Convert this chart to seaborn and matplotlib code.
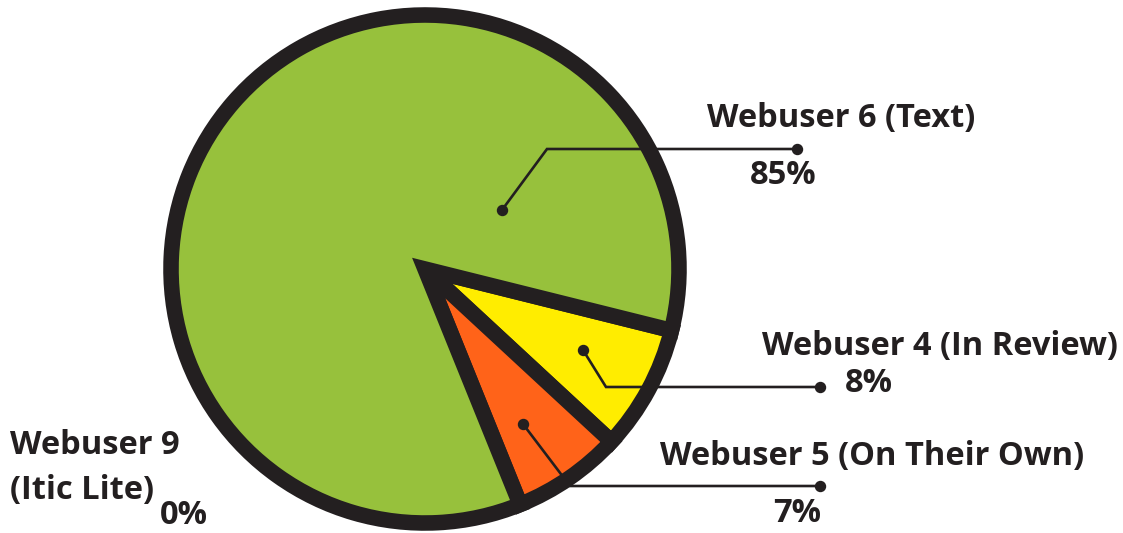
import matplotlib
matplotlib.use("Agg")
import matplotlib.pyplot as plt
import seaborn as sns

# data
labels = ["Webuser 4 (In Review)", "Webuser 5 (On Their Own)", "Webuser 6 (Text)", "Webuser 9\n(Itic Lite)"]
shares = [8, 7, 85, 0]
colors = ["#FFED00", "#FF6319", "#97C13C", "#BBBBBB"]

INK = "#231F20"

sns.set_theme(style="white")
plt.rcParams["font.family"] = ["Open Sans", "DejaVu Sans"]

fig = plt.figure(figsize=(11.23, 5.33), dpi=100)
ax = fig.add_axes([0, 0, 1, 1])

# only slices with a value get a wedge (a 0 wedge would draw a stray border line)
drawn = [(v, c) for v, c in zip(shares, colors) if v > 0]
ax.pie([v for v, c in drawn], colors=[c for v, c in drawn],
       center=(425, 269), radius=254, startangle=14, counterclock=True,
       frame=True,
       wedgeprops=dict(edgecolor=INK, linewidth=11.2, joinstyle="miter"))

# pixel-like coordinates, y pointing down
ax.set_xlim(0, 1123)
ax.set_ylim(533, 0)
ax.axis("off")

# leader lines: (inner dot, elbow, outer dot) for each labelled slice
leaders = {
    "Webuser 6 (Text)": [(502, 210), (547, 149), (797, 149)],
    "Webuser 4 (In Review)": [(583, 350), (606, 387), (820, 387)],
    "Webuser 5 (On Their Own)": [(523, 424), (570, 486), (820, 486)],
}
for name, pts in leaders.items():
    xs = [p[0] for p in pts]
    ys = [p[1] for p in pts]
    ax.plot(xs, ys, color=INK, lw=1.9, solid_joinstyle="miter", zorder=5)
    ax.plot([xs[0], xs[-1]], [ys[0], ys[-1]], "o", color=INK, ms=7.2, zorder=6)

# label text positions: (name x, name y, pct x, pct y)
text_pos = {
    "Webuser 6 (Text)": (707, 118, 750, 175),
    "Webuser 4 (In Review)": (762, 346, 845, 383),
    "Webuser 5 (On Their Own)": (660, 456, 773, 513),
    "Webuser 9\n(Itic Lite)": (10, 468, 160, 516),
}
font = dict(fontsize=23.5, fontweight="bold", color=INK, va="center", ha="left")
for name, v in zip(labels, shares):
    nx, ny, px, py = text_pos[name]
    ax.text(nx, ny, name, linespacing=1.45, **font)
    ax.text(px, py, f"{v}%", **font)

fig.savefig("out.png", dpi=100)
